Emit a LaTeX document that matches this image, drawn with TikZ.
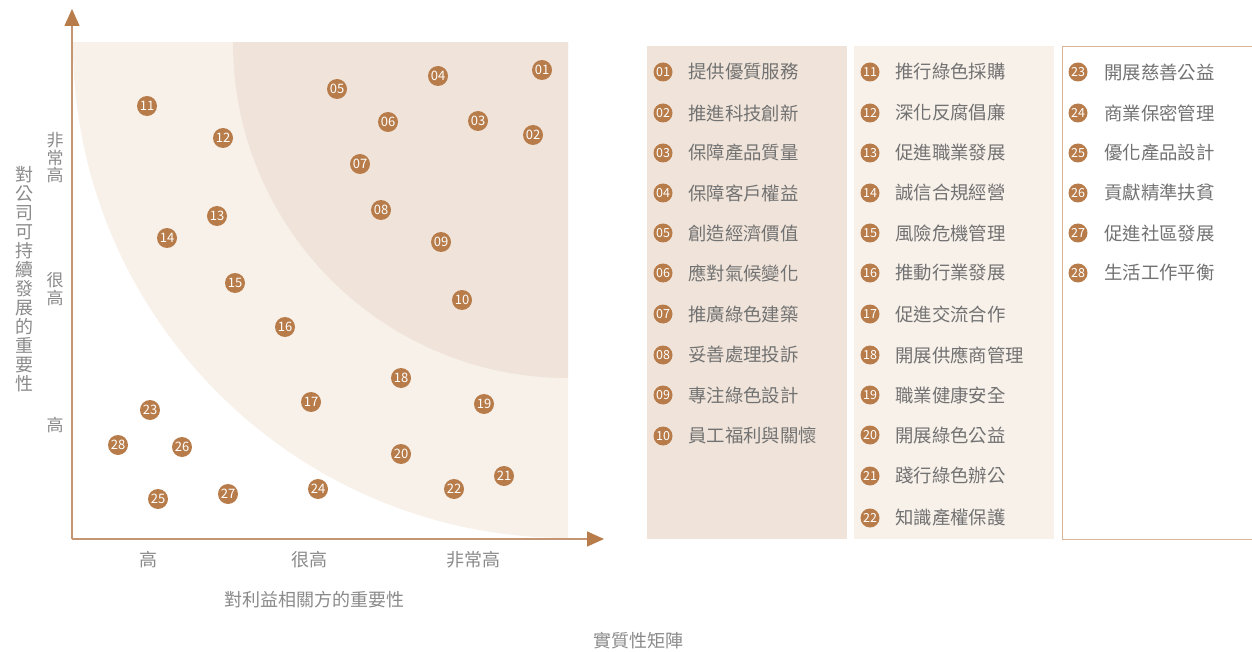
\documentclass[tikz,border=0pt]{standalone}
\usepackage{fontspec}
\setmainfont{Noto Sans CJK TC}
\usetikzlibrary{arrows.meta}
\definecolor{mbrown}{HTML}{B77C4A}
\definecolor{mlight}{HTML}{F8F1EA}
\definecolor{mdark}{HTML}{F0E4DA}
\definecolor{maxis}{HTML}{C39572}
\definecolor{mtext}{HTML}{727272}
\definecolor{mlabel}{HTML}{8A8A8A}
\definecolor{mborder}{HTML}{D9B496}
\tikzset{
  dot/.style={circle, fill=mbrown, inner sep=0pt, minimum size=20pt, text=white, font=\fontsize{13}{13}\selectfont},
  ldot/.style={dot, minimum size=19pt, font=\fontsize{12.5}{12.5}\selectfont},
  ltext/.style={anchor=west, inner sep=0pt, text=mtext, font=\fontsize{18.4}{18.4}\selectfont},
  axis/.style={maxis, line width=1.4pt, -{Triangle[length=17pt,width=15pt,color=mbrown,fill=mbrown]}},
  vlabel/.style={align=center, inner sep=0pt, text=mlabel, font=\fontsize{17}{17.5}\selectfont},
  hlabel/.style={inner sep=0pt, text=mlabel, font=\fontsize{18}{18}\selectfont},
}
\begin{document}
\begin{tikzpicture}[x=1pt,y=-1pt]
\useasboundingbox (0,0) rectangle (1252,652);
% quadrant background
\begin{scope}
\clip (72,43) rectangle (568,539);
\fill[mlight] (568,43) circle[radius=495];
\fill[mdark] (568,43) circle[radius=335];
\end{scope}
% axes
\coordinate (O) at (72,539);
\coordinate (ytop) at (72,9);
\coordinate (xend) at (604,539);
\draw[axis] (O) -- (ytop);
\draw[axis] (O) -- (xend);
% axis tick labels
\node[vlabel] (yl3) at (55,158) {非\\常\\高};
\node[vlabel] (yl2) at (55,289) {很\\高};
\node[vlabel] (yl1) at (55,425) {高};
\node[vlabel, font=\fontsize{18}{19}\selectfont] (ytitle) at (24,279) {對\\公\\司\\可\\持\\續\\發\\展\\的\\重\\要\\性};
\node[hlabel] (xl1) at (148,560) {高};
\node[hlabel] (xl2) at (309,560) {很高};
\node[hlabel] (xl3) at (473,560) {非常高};
\node[hlabel] (xtitle) at (314,600) {對利益相關方的重要性};
\node[hlabel] (caption) at (638,641) {實質性矩陣};
% matrix dots
\node[dot] (c01) at (542,70) {01};
\node[dot] (c02) at (533,135) {02};
\node[dot] (c03) at (478,121) {03};
\node[dot] (c04) at (438,76) {04};
\node[dot] (c05) at (337,89) {05};
\node[dot] (c06) at (388,122) {06};
\node[dot] (c07) at (360,164) {07};
\node[dot] (c08) at (381,210) {08};
\node[dot] (c09) at (441,242) {09};
\node[dot] (c10) at (462,300) {10};
\node[dot] (c11) at (147,106) {11};
\node[dot] (c12) at (223,138) {12};
\node[dot] (c13) at (217,216) {13};
\node[dot] (c14) at (167,238) {14};
\node[dot] (c15) at (235,283) {15};
\node[dot] (c16) at (285,327) {16};
\node[dot] (c17) at (311,402) {17};
\node[dot] (c18) at (401,378) {18};
\node[dot] (c19) at (484,404) {19};
\node[dot] (c20) at (401,454) {20};
\node[dot] (c21) at (504,476) {21};
\node[dot] (c22) at (454,489) {22};
\node[dot] (c23) at (150,410) {23};
\node[dot] (c24) at (318,489) {24};
\node[dot] (c25) at (158,499) {25};
\node[dot] (c26) at (182,447) {26};
\node[dot] (c27) at (228,494) {27};
\node[dot] (c28) at (118,445) {28};
% legend panels
\fill[mdark] (647,46) rectangle (847,539);
\fill[mlight] (854,46) rectangle (1054,539);
\draw[mborder, line width=1pt] (1253,46.5) -- (1062.5,46.5) -- (1062.5,539) -- (1253,539);
% legend column 1
\node[ldot] (l01) at (663,72) {01}; \node[ltext] (t01) at (688,72) {提供優質服務};
\node[ldot] (l02) at (663,113) {02}; \node[ltext] (t02) at (688,113) {推進科技創新};
\node[ldot] (l03) at (663,153) {03}; \node[ltext] (t03) at (688,153) {保障產品質量};
\node[ldot] (l04) at (663,193) {04}; \node[ltext] (t04) at (688,193) {保障客戶權益};
\node[ldot] (l05) at (663,233) {05}; \node[ltext] (t05) at (688,233) {創造經濟價值};
\node[ldot] (l06) at (663,273) {06}; \node[ltext] (t06) at (688,273) {應對氣候變化};
\node[ldot] (l07) at (663,314) {07}; \node[ltext] (t07) at (688,314) {推廣綠色建築};
\node[ldot] (l08) at (663,355) {08}; \node[ltext] (t08) at (688,355) {妥善處理投訴};
\node[ldot] (l09) at (663,395) {09}; \node[ltext] (t09) at (688,395) {專注綠色設計};
\node[ldot] (l10) at (663,436) {10}; \node[ltext] (t10) at (688,436) {員工福利與關懷};
% legend column 2
\node[ldot] (l11) at (870,72) {11}; \node[ltext] (t11) at (895,72) {推行綠色採購};
\node[ldot] (l12) at (870,113) {12}; \node[ltext] (t12) at (895,113) {深化反腐倡廉};
\node[ldot] (l13) at (870,153) {13}; \node[ltext] (t13) at (895,153) {促進職業發展};
\node[ldot] (l14) at (870,193) {14}; \node[ltext] (t14) at (895,193) {誠信合規經營};
\node[ldot] (l15) at (870,233) {15}; \node[ltext] (t15) at (895,233) {風險危機管理};
\node[ldot] (l16) at (870,273) {16}; \node[ltext] (t16) at (895,273) {推動行業發展};
\node[ldot] (l17) at (870,314) {17}; \node[ltext] (t17) at (895,314) {促進交流合作};
\node[ldot] (l18) at (870,355) {18}; \node[ltext] (t18) at (895,355) {開展供應商管理};
\node[ldot] (l19) at (870,395) {19}; \node[ltext] (t19) at (895,395) {職業健康安全};
\node[ldot] (l20) at (870,435) {20}; \node[ltext] (t20) at (895,435) {開展綠色公益};
\node[ldot] (l21) at (870,476) {21}; \node[ltext] (t21) at (895,476) {踐行綠色辦公};
\node[ldot] (l22) at (870,518) {22}; \node[ltext] (t22) at (895,518) {知識產權保護};
% legend column 3
\node[ldot] (l23) at (1078,72) {23}; \node[ltext] (t23) at (1104,72) {開展慈善公益};
\node[ldot] (l24) at (1078,113) {24}; \node[ltext] (t24) at (1104,113) {商業保密管理};
\node[ldot] (l25) at (1078,153) {25}; \node[ltext] (t25) at (1104,153) {優化產品設計};
\node[ldot] (l26) at (1078,193) {26}; \node[ltext] (t26) at (1104,193) {貢獻精準扶貧};
\node[ldot] (l27) at (1078,233) {27}; \node[ltext] (t27) at (1104,233) {促進社區發展};
\node[ldot] (l28) at (1078,273) {28}; \node[ltext] (t28) at (1104,273) {生活工作平衡};
\end{tikzpicture}
\end{document}
